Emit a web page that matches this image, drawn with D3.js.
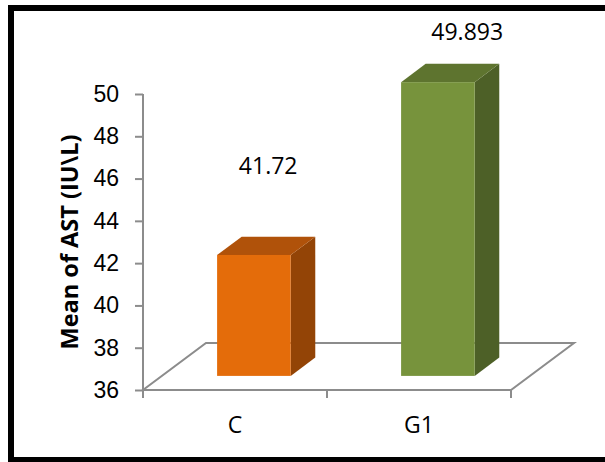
<!DOCTYPE html>
<html>
<head>
<meta charset="utf-8">
<script src="https://cdn.jsdelivr.net/npm/d3@7"></script>
<style>
  body { margin: 0; background: #fff; }
  svg { display: block; font-family: "Open Sans", "Liberation Sans", sans-serif; }
</style>
</head>
<body>
<svg id="chart" width="605" height="462"></svg>
<script>
// data
var categories = ['C', 'G1'];
var values = [41.72, 49.893];
var valueLabels = ['41.72', '49.893'];
var yTicks = [36, 38, 40, 42, 44, 46, 48, 50];

(function(){
    var svg = d3.select('#chart'),
        left = 143,
        right = 511,
        bottom = 390,
        top = 94,
        depthX = 63,
        depthY = -47,
        barD0 = 0.3,
        barD1 = 0.69,
        axisColor = '#8c8c8c';

    var frontColors = ['#e46c0a', '#77933c'],
        topColors = ['#b0520a', '#5e742f'],
        sideColors = ['#934406', '#4d6027'];

    // label placement (pixels above the bar's top back edge)
    var labelLift = [63, 24],
        labelShift = [2, 17];

    var x = d3.scaleBand()
        .domain(categories)
        .range([left, right])
        .padding(0);

    var y = d3.scaleLinear()
        .domain([36, 50])
        .range([bottom, top]);

    // outer frame
    svg.append('rect')
        .attr('x', 11)
        .attr('y', 8)
        .attr('width', 640)
        .attr('height', 452)
        .attr('fill', 'none')
        .attr('stroke', '#000')
        .attr('stroke-width', 6);

    // floor
    var floorPts = [
        [left, y(36)],
        [right, y(36)],
        [right + depthX, y(36) + depthY],
        [left + depthX, y(36) + depthY]
    ];
    svg.append('polygon')
        .attr('points', floorPts.map(function(p) { return p.join(','); }).join(' '))
        .attr('fill', '#fff')
        .attr('stroke', axisColor)
        .attr('stroke-width', 2);

    // y axis
    var yAxis = d3.axisLeft(y)
        .tickValues(yTicks)
        .tickSize(8)
        .tickPadding(16);
    var gy = svg.append('g')
        .attr('transform', 'translate(' + left + ',0)')
        .call(yAxis);
    gy.select('.domain').remove();
    gy.append('line')
        .attr('x1', 0).attr('x2', 0)
        .attr('y1', top).attr('y2', bottom + 8)
        .attr('stroke', axisColor)
        .attr('stroke-width', 2);
    gy.selectAll('.tick line')
        .attr('stroke', axisColor)
        .attr('stroke-width', 2);
    gy.selectAll('.tick text')
        .attr('fill', '#000')
        .style('font-size', '23px');

    // x axis
    var xTicks = categories.map(function(c) { return x(c); }).concat([right]);
    svg.append('g')
        .selectAll('line')
        .data(xTicks)
        .enter().append('line')
        .attr('x1', function(d) { return d; })
        .attr('x2', function(d) { return d; })
        .attr('y1', bottom)
        .attr('y2', bottom + 8)
        .attr('stroke', axisColor)
        .attr('stroke-width', 2);

    svg.append('g')
        .selectAll('text')
        .data(categories)
        .enter().append('text')
        .attr('x', function(d) { return x(d) + x.bandwidth() / 2; })
        .attr('y', 433)
        .attr('text-anchor', 'middle')
        .style('font-size', '23px')
        .text(function(d) { return d; });

    // bars
    var barW = x.bandwidth() * 0.4;
    var bars = svg.append('g')
        .selectAll('g')
        .data(values)
        .enter().append('g');

    function corners(v, i) {
        var x0 = x(categories[i]) + (x.bandwidth() - barW) / 2 + barD0 * depthX,
            x1 = x0 + barW,
            yb = y(36) + barD0 * depthY,
            yt = y(v) + barD0 * depthY,
            dx = (barD1 - barD0) * depthX,
            dy = (barD1 - barD0) * depthY;
        return { x0: x0, x1: x1, yb: yb, yt: yt, dx: dx, dy: dy };
    }

    function pts(arr) {
        return arr.map(function(p) { return p.join(','); }).join(' ');
    }

    bars.append('polygon')
        .attr('points', function(v, i) {
            var c = corners(v, i);
            return pts([[c.x1, c.yb], [c.x1 + c.dx, c.yb + c.dy], [c.x1 + c.dx, c.yt + c.dy], [c.x1, c.yt]]);
        })
        .attr('fill', function(v, i) { return sideColors[i]; });

    bars.append('polygon')
        .attr('points', function(v, i) {
            var c = corners(v, i);
            return pts([[c.x0, c.yt], [c.x1, c.yt], [c.x1 + c.dx, c.yt + c.dy], [c.x0 + c.dx, c.yt + c.dy]]);
        })
        .attr('fill', function(v, i) { return topColors[i]; });

    bars.append('rect')
        .attr('x', function(v, i) { return corners(v, i).x0; })
        .attr('y', function(v, i) { return corners(v, i).yt; })
        .attr('width', barW)
        .attr('height', function(v, i) { var c = corners(v, i); return c.yb - c.yt; })
        .attr('fill', function(v, i) { return frontColors[i]; });

    // value labels
    bars.append('text')
        .attr('x', function(v, i) {
            var c = corners(v, i);
            return (c.x0 + c.x1 + c.dx) / 2 + labelShift[i];
        })
        .attr('y', function(v, i) {
            var c = corners(v, i);
            return c.yt + c.dy - labelLift[i];
        })
        .attr('text-anchor', 'middle')
        .style('font-size', '23px')
        .text(function(v, i) { return valueLabels[i]; });

    // y title
    svg.append('text')
        .attr('transform', 'translate(78,242) rotate(-90)')
        .attr('text-anchor', 'middle')
        .style('font-size', '23.5px')
        .style('font-weight', 'bold')
        .text('Mean of AST (IU\\L)');
})();
</script>
</body>
</html>
